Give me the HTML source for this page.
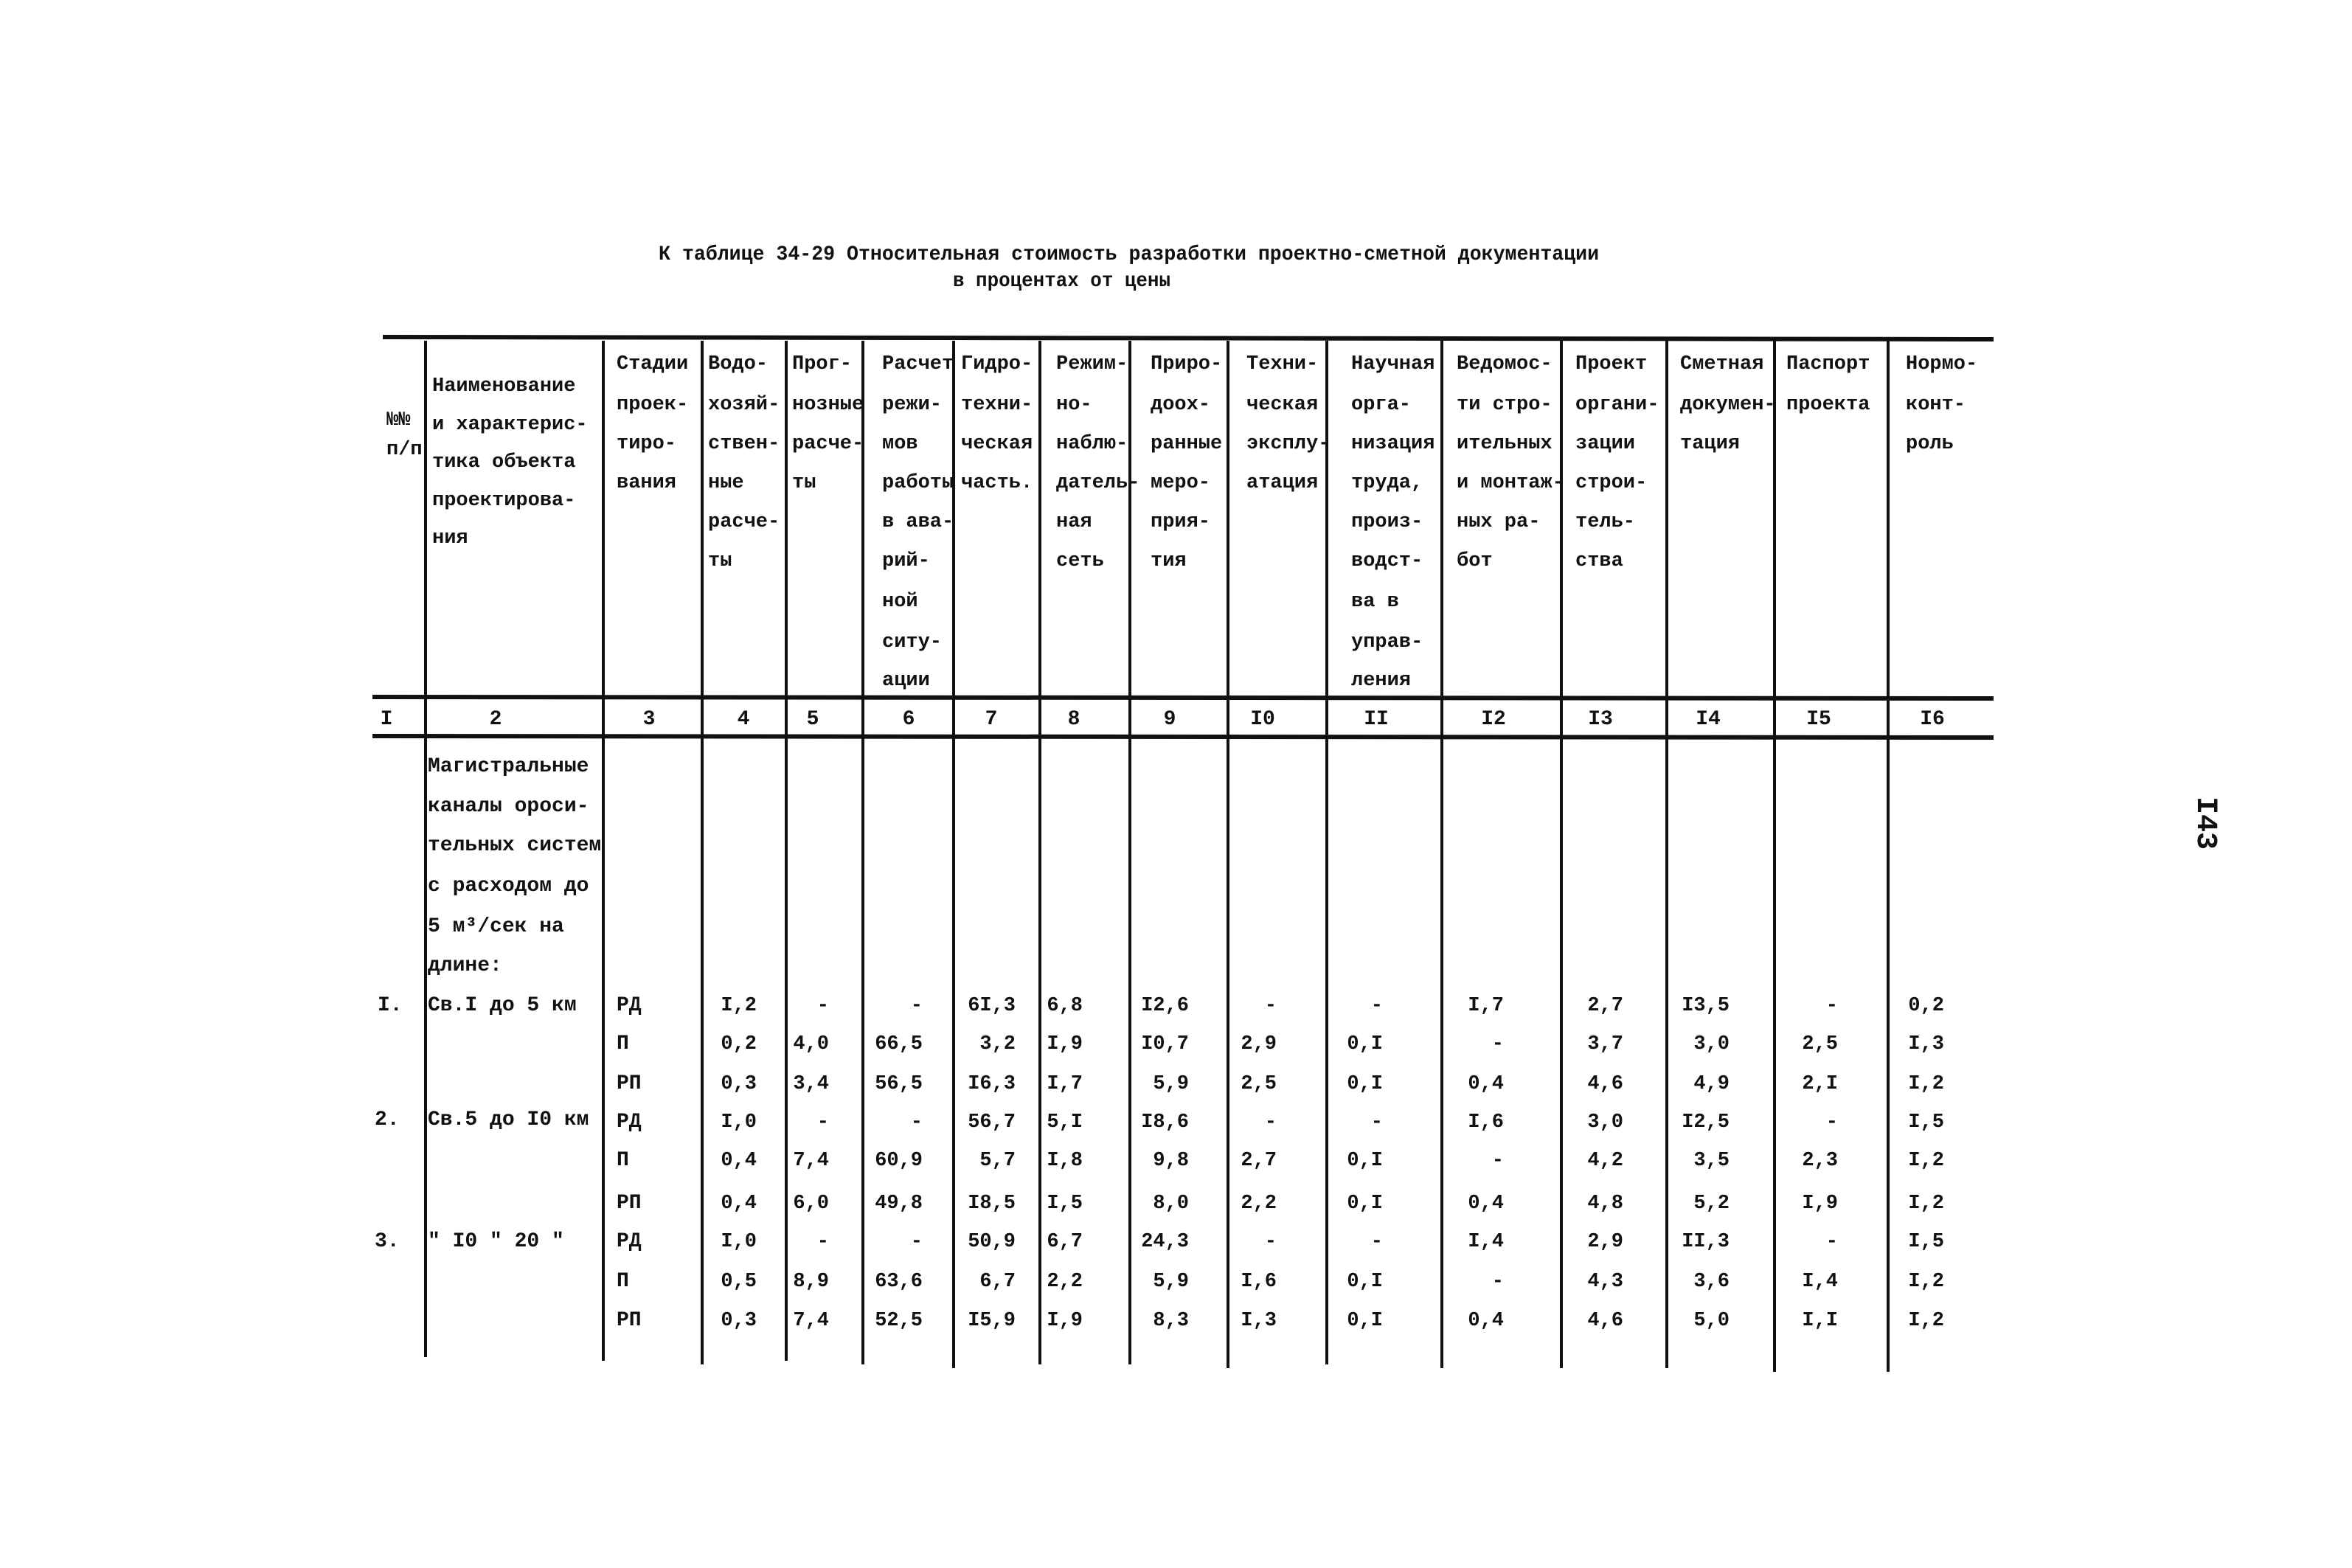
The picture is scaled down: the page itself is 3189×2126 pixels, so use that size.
<!DOCTYPE html>
<html><head><meta charset="utf-8"><style>
html,body{margin:0;padding:0;background:#fff;}
svg{display:block}
text{font-family:"Liberation Mono","DejaVu Sans Mono",monospace;font-weight:bold;fill:#111;font-size:28px}
.h text{font-size:27px}
.v{text-anchor:end}
.v text{font-size:27px}
</style></head><body>
<svg width="3189" height="2126" viewBox="0 0 3189 2126" xmlns="http://www.w3.org/2000/svg">
<text x="893" y="352" textLength="1275" lengthAdjust="spacingAndGlyphs">К таблице 34-29 Относительная стоимость разработки проектно-сметной документации</text>
<text x="1292" y="388" textLength="295" lengthAdjust="spacingAndGlyphs">в процентах от цены</text>
<text transform="translate(2980,1080) rotate(90)" style="font-size:40px">I43</text>
<g stroke="#111" fill="none">
<path d="M519 457 L2703 460" stroke-width="6"/>
<path d="M505 945 L2703 947" stroke-width="6"/>
<path d="M505 998 L2703 1000" stroke-width="6"/>
<g stroke-width="4">
<path d="M577 462 V1840"/><path d="M818 462 V1845"/><path d="M952 462 V1850"/><path d="M1066 462 V1845"/>
<path d="M1170 462 V1850"/><path d="M1293 462 V1855"/><path d="M1410 462 V1850"/><path d="M1532 462 V1850"/>
<path d="M1665 462 V1855"/><path d="M1799 462 V1850"/><path d="M1955 462 V1855"/><path d="M2117 462 V1855"/>
<path d="M2260 462 V1855"/><path d="M2406 462 V1860"/><path d="M2560 462 V1860"/>
</g></g>
<g class="h">
<text x="524" y="576">№№</text><text x="524" y="616">п/п</text>
<text x="586" y="530">Наименование</text><text x="586" y="582">и характерис-</text><text x="586" y="633">тика объекта</text><text x="586" y="685">проектирова-</text><text x="586" y="736">ния</text>
<text x="836" y="500">Стадии</text><text x="836" y="555">проек-</text><text x="836" y="608">тиро-</text><text x="836" y="661">вания</text>
<text x="960" y="500">Водо-</text><text x="960" y="555">хозяй-</text><text x="960" y="608">ствен-</text><text x="960" y="661">ные</text><text x="960" y="714">расче-</text><text x="960" y="767">ты</text>
<text x="1074" y="500">Прог-</text><text x="1074" y="555">нозные</text><text x="1074" y="608">расче-</text><text x="1074" y="661">ты</text>
<text x="1196" y="500">Расчет</text><text x="1196" y="555">режи-</text><text x="1196" y="608">мов</text><text x="1196" y="661">работы</text><text x="1196" y="714">в ава-</text><text x="1196" y="767">рий-</text><text x="1196" y="822">ной</text><text x="1196" y="877">ситу-</text><text x="1196" y="929">ации</text>
<text x="1303" y="500">Гидро-</text><text x="1303" y="555">техни-</text><text x="1303" y="608">ческая</text><text x="1303" y="661">часть.</text>
<text x="1432" y="500">Режим-</text><text x="1432" y="555">но-</text><text x="1432" y="608">наблю-</text><text x="1432" y="661">датель-</text><text x="1432" y="714">ная</text><text x="1432" y="767">сеть</text>
<text x="1560" y="500">Приро-</text><text x="1560" y="555">доох-</text><text x="1560" y="608">ранные</text><text x="1560" y="661">меро-</text><text x="1560" y="714">прия-</text><text x="1560" y="767">тия</text>
<text x="1690" y="500">Техни-</text><text x="1690" y="555">ческая</text><text x="1690" y="608">эксплу-</text><text x="1690" y="661">атация</text>
<text x="1832" y="500">Научная</text><text x="1832" y="555">орга-</text><text x="1832" y="608">низация</text><text x="1832" y="661">труда,</text><text x="1832" y="714">произ-</text><text x="1832" y="767">водст-</text><text x="1832" y="822">ва в</text><text x="1832" y="877">управ-</text><text x="1832" y="929">ления</text>
<text x="1975" y="500">Ведомос-</text><text x="1975" y="555">ти стро-</text><text x="1975" y="608">ительных</text><text x="1975" y="661">и монтаж-</text><text x="1975" y="714">ных ра-</text><text x="1975" y="767">бот</text>
<text x="2136" y="500">Проект</text><text x="2136" y="555">органи-</text><text x="2136" y="608">зации</text><text x="2136" y="661">строи-</text><text x="2136" y="714">тель-</text><text x="2136" y="767">ства</text>
<text x="2278" y="500">Сметная</text><text x="2278" y="555">докумен-</text><text x="2278" y="608">тация</text>
<text x="2422" y="500">Паспорт</text><text x="2422" y="555">проекта</text>
<text x="2584" y="500">Нормо-</text><text x="2584" y="555">конт-</text><text x="2584" y="608">роль</text>
</g>
<g style="text-anchor:middle">
<text x="524" y="982">I</text><text x="672" y="982">2</text><text x="880" y="982">3</text><text x="1008" y="982">4</text><text x="1102" y="982">5</text><text x="1232" y="982">6</text><text x="1344" y="982">7</text><text x="1456" y="982">8</text><text x="1586" y="982">9</text><text x="1712" y="982">I0</text><text x="1866" y="982">II</text><text x="2025" y="982">I2</text><text x="2170" y="982">I3</text><text x="2316" y="982">I4</text><text x="2466" y="982">I5</text><text x="2620" y="982">I6</text>
</g>
<g>
<text x="580" y="1046">Магистральные</text><text x="580" y="1100">каналы ороси-</text><text x="580" y="1153">тельных систем</text><text x="580" y="1208">с расходом до</text><text x="580" y="1263">5 м³/сек на</text><text x="580" y="1316">длине:</text>
<text x="512" y="1370">I.</text><text x="580" y="1370">Св.I до 5 км</text>
<text x="508" y="1525">2.</text><text x="580" y="1525">Св.5 до I0 км</text>
<text x="508" y="1690">3.</text><text x="580" y="1690">" I0 " 20 "</text>
<text x="836" y="1370">РД</text><text x="836" y="1422">П</text><text x="836" y="1476">РП</text>
<text x="836" y="1528">РД</text><text x="836" y="1580">П</text><text x="836" y="1638">РП</text>
<text x="836" y="1690">РД</text><text x="836" y="1744">П</text><text x="836" y="1797">РП</text>
</g>
<g class="v">
<text x="1026" y="1370">I,2</text><text x="1124" y="1370">-</text><text x="1251" y="1370">-</text><text x="1377" y="1370">6I,3</text><text x="1468" y="1370">6,8</text><text x="1612" y="1370">I2,6</text><text x="1731" y="1370">-</text><text x="1875" y="1370">-</text><text x="2039" y="1370">I,7</text><text x="2201" y="1370">2,7</text><text x="2345" y="1370">I3,5</text><text x="2492" y="1370">-</text><text x="2636" y="1370">0,2</text>
<text x="1026" y="1422">0,2</text><text x="1124" y="1422">4,0</text><text x="1251" y="1422">66,5</text><text x="1377" y="1422">3,2</text><text x="1468" y="1422">I,9</text><text x="1612" y="1422">I0,7</text><text x="1731" y="1422">2,9</text><text x="1875" y="1422">0,I</text><text x="2039" y="1422">-</text><text x="2201" y="1422">3,7</text><text x="2345" y="1422">3,0</text><text x="2492" y="1422">2,5</text><text x="2636" y="1422">I,3</text>
<text x="1026" y="1476">0,3</text><text x="1124" y="1476">3,4</text><text x="1251" y="1476">56,5</text><text x="1377" y="1476">I6,3</text><text x="1468" y="1476">I,7</text><text x="1612" y="1476">5,9</text><text x="1731" y="1476">2,5</text><text x="1875" y="1476">0,I</text><text x="2039" y="1476">0,4</text><text x="2201" y="1476">4,6</text><text x="2345" y="1476">4,9</text><text x="2492" y="1476">2,I</text><text x="2636" y="1476">I,2</text>
<text x="1026" y="1528">I,0</text><text x="1124" y="1528">-</text><text x="1251" y="1528">-</text><text x="1377" y="1528">56,7</text><text x="1468" y="1528">5,I</text><text x="1612" y="1528">I8,6</text><text x="1731" y="1528">-</text><text x="1875" y="1528">-</text><text x="2039" y="1528">I,6</text><text x="2201" y="1528">3,0</text><text x="2345" y="1528">I2,5</text><text x="2492" y="1528">-</text><text x="2636" y="1528">I,5</text>
<text x="1026" y="1580">0,4</text><text x="1124" y="1580">7,4</text><text x="1251" y="1580">60,9</text><text x="1377" y="1580">5,7</text><text x="1468" y="1580">I,8</text><text x="1612" y="1580">9,8</text><text x="1731" y="1580">2,7</text><text x="1875" y="1580">0,I</text><text x="2039" y="1580">-</text><text x="2201" y="1580">4,2</text><text x="2345" y="1580">3,5</text><text x="2492" y="1580">2,3</text><text x="2636" y="1580">I,2</text>
<text x="1026" y="1638">0,4</text><text x="1124" y="1638">6,0</text><text x="1251" y="1638">49,8</text><text x="1377" y="1638">I8,5</text><text x="1468" y="1638">I,5</text><text x="1612" y="1638">8,0</text><text x="1731" y="1638">2,2</text><text x="1875" y="1638">0,I</text><text x="2039" y="1638">0,4</text><text x="2201" y="1638">4,8</text><text x="2345" y="1638">5,2</text><text x="2492" y="1638">I,9</text><text x="2636" y="1638">I,2</text>
<text x="1026" y="1690">I,0</text><text x="1124" y="1690">-</text><text x="1251" y="1690">-</text><text x="1377" y="1690">50,9</text><text x="1468" y="1690">6,7</text><text x="1612" y="1690">24,3</text><text x="1731" y="1690">-</text><text x="1875" y="1690">-</text><text x="2039" y="1690">I,4</text><text x="2201" y="1690">2,9</text><text x="2345" y="1690">II,3</text><text x="2492" y="1690">-</text><text x="2636" y="1690">I,5</text>
<text x="1026" y="1744">0,5</text><text x="1124" y="1744">8,9</text><text x="1251" y="1744">63,6</text><text x="1377" y="1744">6,7</text><text x="1468" y="1744">2,2</text><text x="1612" y="1744">5,9</text><text x="1731" y="1744">I,6</text><text x="1875" y="1744">0,I</text><text x="2039" y="1744">-</text><text x="2201" y="1744">4,3</text><text x="2345" y="1744">3,6</text><text x="2492" y="1744">I,4</text><text x="2636" y="1744">I,2</text>
<text x="1026" y="1797">0,3</text><text x="1124" y="1797">7,4</text><text x="1251" y="1797">52,5</text><text x="1377" y="1797">I5,9</text><text x="1468" y="1797">I,9</text><text x="1612" y="1797">8,3</text><text x="1731" y="1797">I,3</text><text x="1875" y="1797">0,I</text><text x="2039" y="1797">0,4</text><text x="2201" y="1797">4,6</text><text x="2345" y="1797">5,0</text><text x="2492" y="1797">I,I</text><text x="2636" y="1797">I,2</text>
</g>
</svg>
</body></html>
